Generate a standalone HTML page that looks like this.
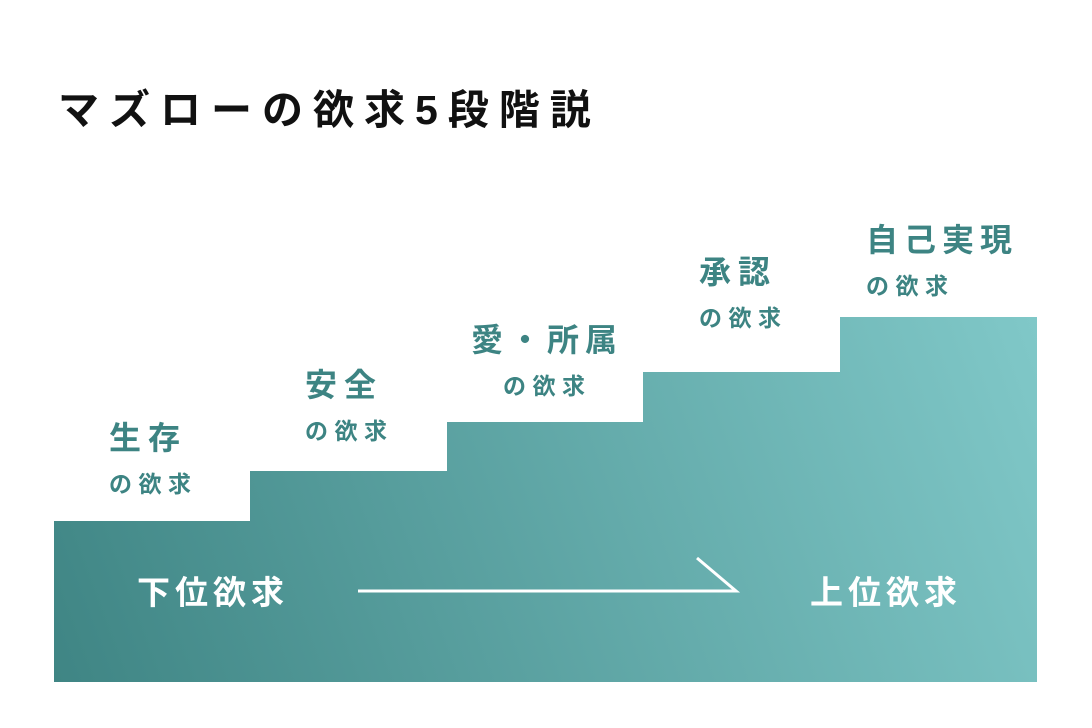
<!DOCTYPE html>
<html><head><meta charset="utf-8"><style>
html,body{margin:0;padding:0;background:#fff;}
svg{display:block;}
text{font-family:"Liberation Sans","Noto Sans CJK JP",sans-serif;}
</style></head><body>
<svg width="1092" height="728" viewBox="0 0 1092 728" xmlns="http://www.w3.org/2000/svg">
<defs>
<linearGradient id="g" x1="54" y1="682" x2="1037" y2="317" gradientUnits="userSpaceOnUse">
<stop offset="0" stop-color="#3f8584"/>
<stop offset="1" stop-color="#80c8c8"/>
</linearGradient>
</defs>
<rect width="1092" height="728" fill="#fff"/>
<text x="58" y="124" font-size="41" font-weight="bold" fill="#111" letter-spacing="10">マズローの欲求5段階説</text>
<polygon points="54,521 250,521 250,471 447,471 447,422 643,422 643,372 840,372 840,317 1037,317 1037,682 54,682" fill="url(#g)"/>
<g fill="#3d8483" font-weight="bold">
<text x="109" y="449" font-size="32" letter-spacing="7">生存</text>
<text x="109" y="492" font-size="23" letter-spacing="6.5">の欲求</text>
<text x="305" y="396" font-size="32" letter-spacing="7">安全</text>
<text x="305" y="439" font-size="23" letter-spacing="6.5">の欲求</text>
<text x="471" y="351" font-size="32" letter-spacing="6">愛・所属</text>
<text x="503" y="394" font-size="23" letter-spacing="6.5">の欲求</text>
<text x="699" y="283" font-size="32" letter-spacing="7">承認</text>
<text x="699" y="326" font-size="23" letter-spacing="6.5">の欲求</text>
<text x="866" y="251" font-size="32" letter-spacing="6">自己実現</text>
<text x="866" y="294" font-size="23" letter-spacing="6.5">の欲求</text>
</g>
<g fill="#fff" font-weight="bold" font-size="33" letter-spacing="5">
<text x="137" y="604">下位欲求</text>
<text x="810" y="604">上位欲求</text>
</g>
<polyline points="358,591 736,591 697,558" fill="none" stroke="#fff" stroke-width="3"/>
</svg>
</body></html>
